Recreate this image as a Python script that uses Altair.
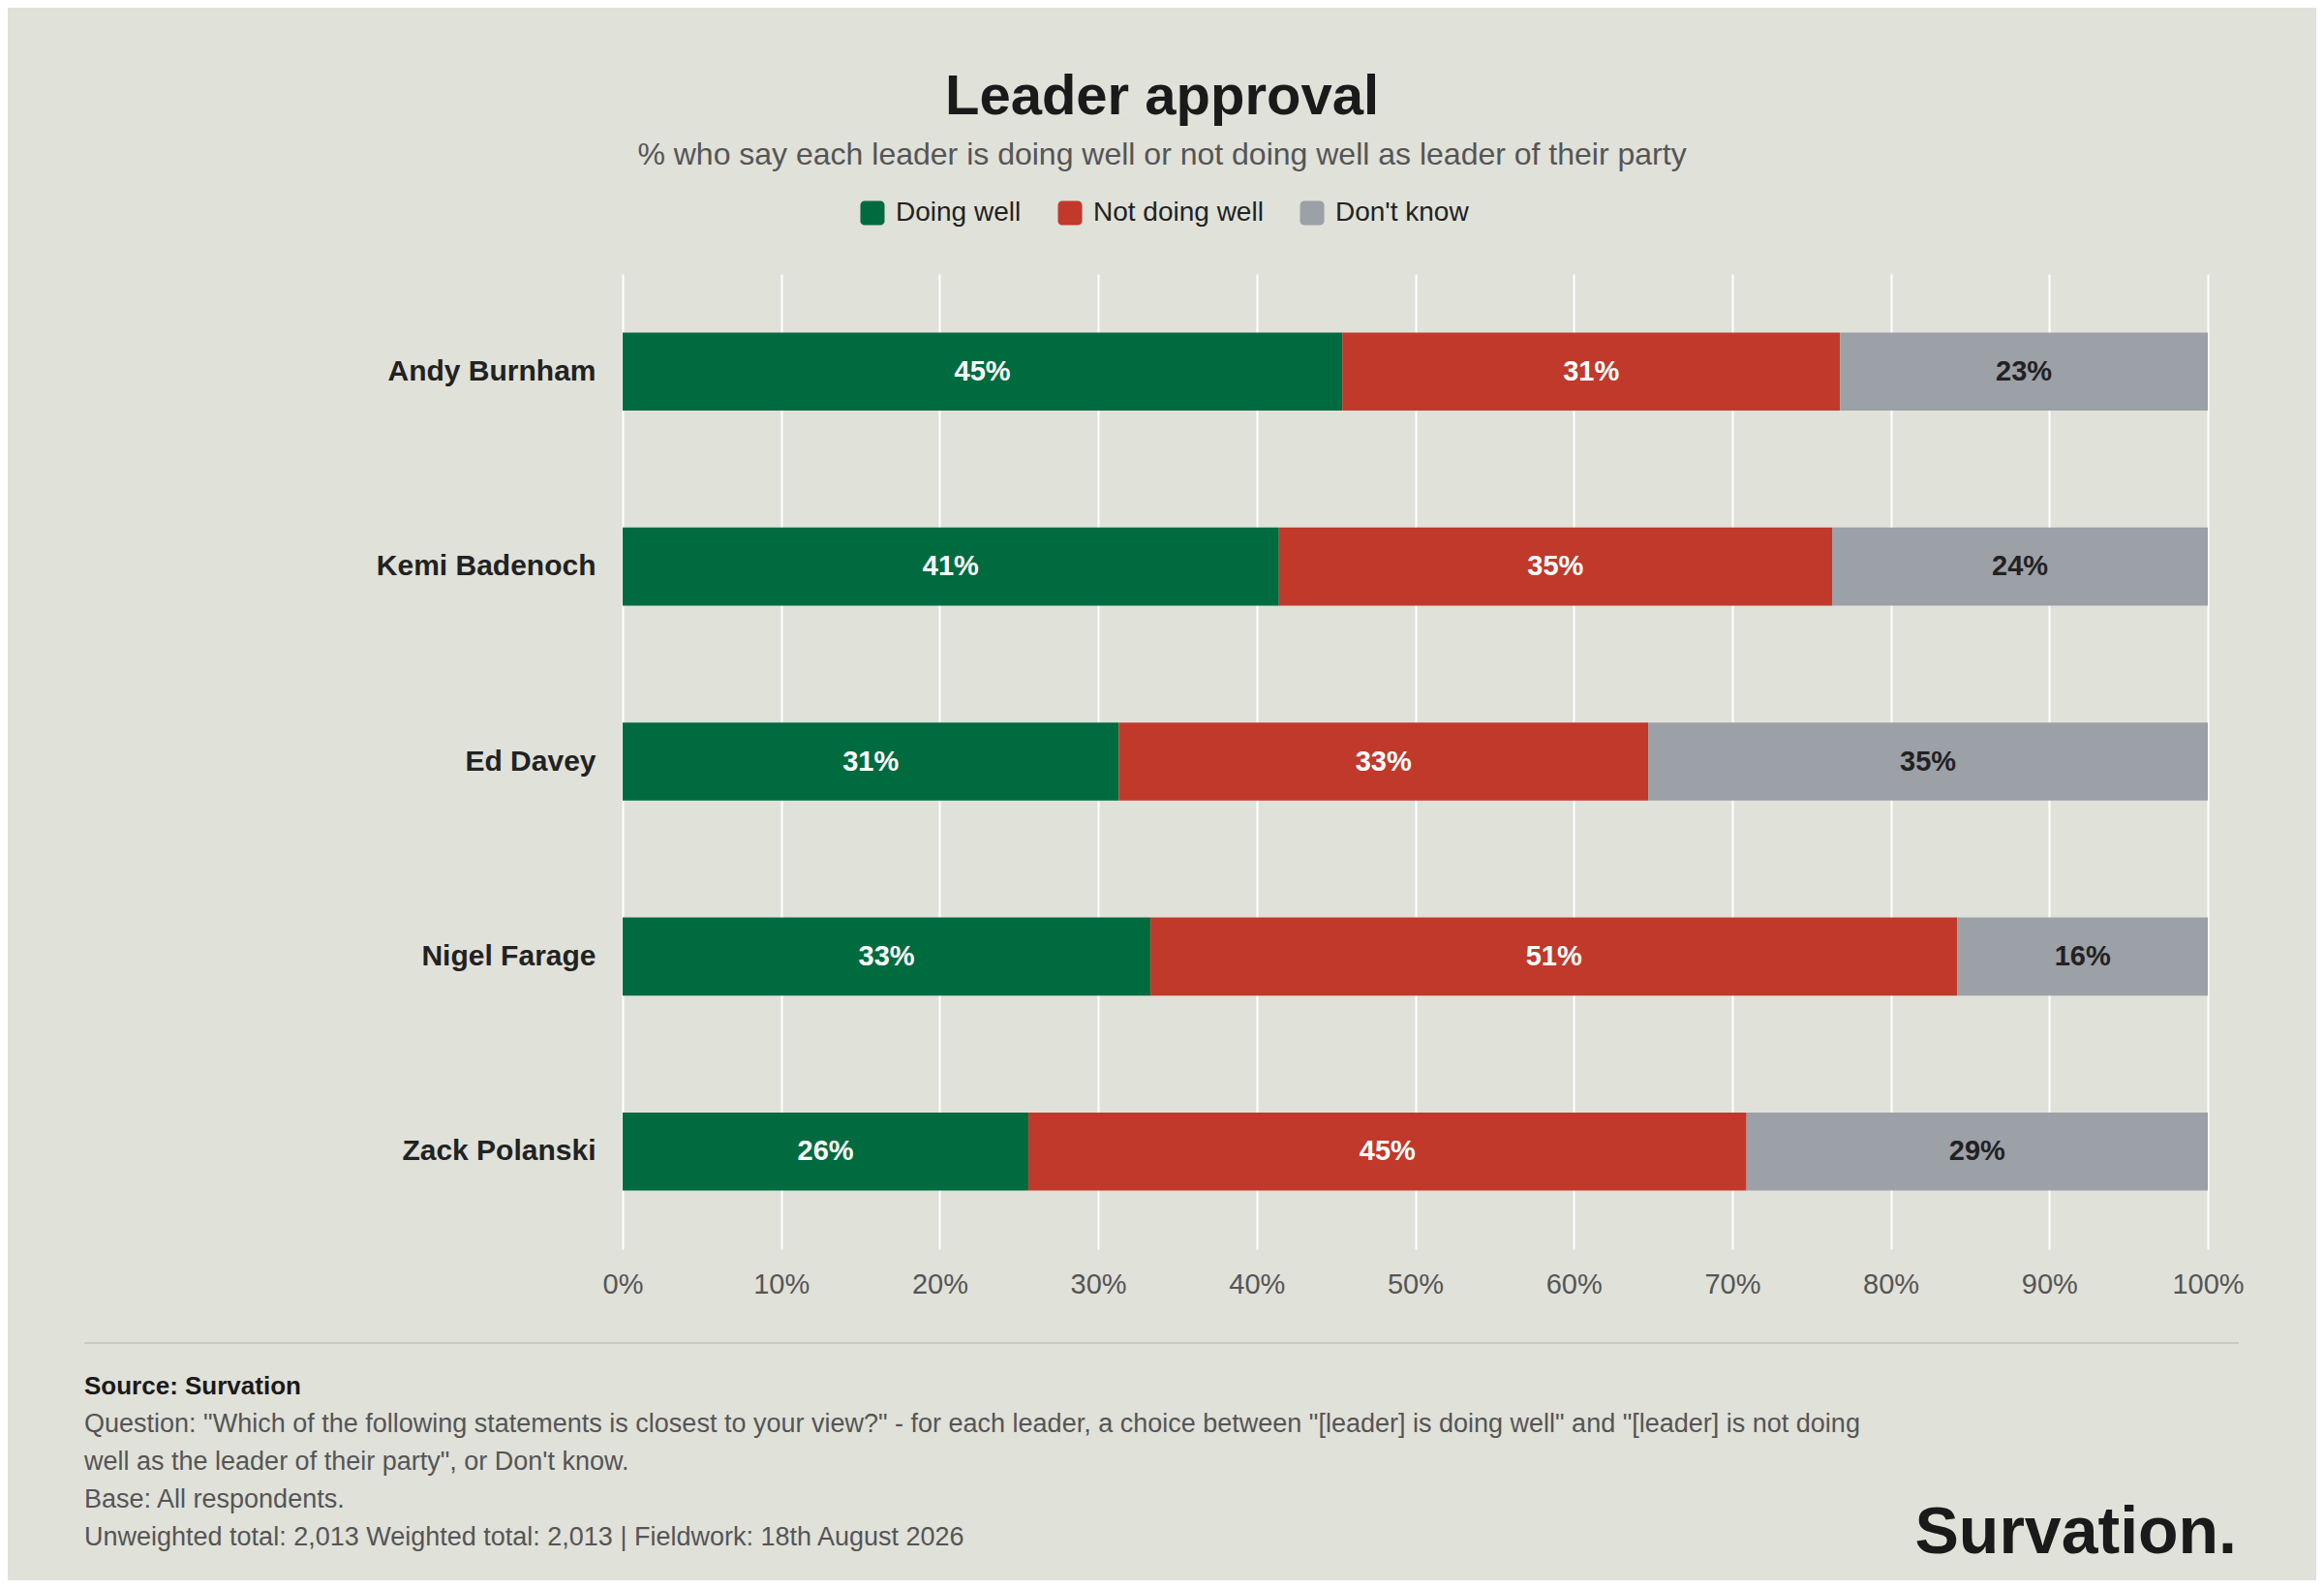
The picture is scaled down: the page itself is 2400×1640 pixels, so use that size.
import altair as alt
import pandas as pd

leaders = ["Andy Burnham", "Kemi Badenoch", "Ed Davey", "Nigel Farage", "Zack Polanski"]
responses = ["Doing well", "Not doing well", "Don't know"]
doing_well = [45.4, 41.4, 31.3, 33.3, 25.6]
not_doing_well = [31.4, 34.9, 33.4, 50.9, 45.3]
dont_know = [23.2, 23.7, 35.3, 15.8, 29.1]
colours = ["#006B3F", "#C0392B", "#9CA0A7"]
x_ticks = [0, 10, 20, 30, 40, 50, 60, 70, 80, 90, 100]

title = "Leader approval"
subtitle = "% who say each leader is doing well or not doing well as leader of their party"
source = "Source: Survation"
notes = [
    'Question: "Which of the following statements is closest to your view?" - for each leader, a choice between "[leader] is doing well" and "[leader] is not doing',
    'well as the leader of their party", or Don\'t know.',
    "Base: All respondents.",
    "Unweighted total: 2,013 Weighted total: 2,013 | Fieldwork: 18th August 2026",
]
logo = "Survation."

FONT = "Liberation Sans"
BG = "#E0E1D9"
W, H = 1637, 1007

rows = []
for i, leader in enumerate(leaders):
    for j, (resp, vals) in enumerate(zip(responses, [doing_well, not_doing_well, dont_know])):
        rows.append({"leader": leader, "response": resp, "idx": j, "pct": vals[i]})
df = pd.DataFrame(rows)

x_axis = alt.Axis(
    values=x_ticks,
    labelExpr="datum.value + '%'",
    labelFontSize=29,
    labelColor="#555555",
    labelPadding=22,
    labelFlush=False,
    ticks=False,
    domain=False,
    grid=True,
    gridColor="#FFFFFF",
    gridWidth=2,
    title=None,
)
y_axis = alt.Axis(
    labelFontSize=30,
    labelFontWeight="bold",
    labelColor="#222222",
    labelPadding=28,
    labelLimit=500,
    ticks=False,
    domain=False,
    grid=False,
    title=None,
)
y_enc = alt.Y(
    "leader:N",
    sort=leaders,
    scale=alt.Scale(paddingInner=0.6, paddingOuter=0.3),
    axis=y_axis,
)
x_scale = alt.Scale(domain=[0, 100], nice=False)

base = alt.Chart(df)

bars = base.mark_bar().encode(
    x=alt.X("pct:Q", stack="zero", scale=x_scale, axis=x_axis),
    y=y_enc,
    color=alt.Color(
        "response:N",
        scale=alt.Scale(domain=responses, range=colours),
        legend=alt.Legend(
            title=None,
            orient="none",
            legendX=244,
            legendY=-77,
            direction="horizontal",
            labelFontSize=28,
            labelColor="#222222",
            labelFont=FONT,
            labelLimit=500,
            symbolType="M-0.65,-1H0.65A0.35,0.35,0,0,1,1,-0.65V0.65A0.35,0.35,0,0,1,0.65,1H-0.65A0.35,0.35,0,0,1,-1,0.65V-0.65A0.35,0.35,0,0,1,-0.65,-1Z",
            symbolSize=625,
            symbolStrokeWidth=0,
            symbolOpacity=1,
            labelOffset=10,
            columnPadding=36,
        ),
    ),
    order=alt.Order("idx:Q"),
)

labels = (
    base.transform_stack(
        stack="pct",
        groupby=["leader"],
        as_=["x0", "x1"],
        sort=[alt.SortField("idx")],
    )
    .transform_calculate(
        mid="(datum.x0 + datum.x1) / 2",
        label="format(datum.pct, '.0f') + '%'",
    )
    .mark_text(fontSize=29, fontWeight="bold", align="center", baseline="middle", font=FONT)
    .encode(
        x=alt.X("mid:Q", scale=x_scale, axis=x_axis),
        y=y_enc,
        text="label:N",
        color=alt.condition("datum.idx === 2", alt.value("#222222"), alt.value("#FFFFFF")),
    )
)

one = pd.DataFrame({"_": [0]})

title_text = alt.Chart(one).mark_text(
    text=title, fontSize=58, fontWeight="bold", color="#1A1A1A", align="center",
    baseline="alphabetic", font=FONT,
).encode(x=alt.value(557), y=alt.value(-165))

subtitle_text = alt.Chart(one).mark_text(
    text=subtitle, fontSize=32, color="#555555", align="center",
    baseline="alphabetic", font=FONT,
).encode(x=alt.value(557), y=alt.value(-113))

divider = alt.Chart(one).mark_rule(color="#C9C9C1", strokeWidth=2).encode(
    x=alt.value(-556), x2=alt.value(1669), y=alt.value(1104)
)

source_text = alt.Chart(one).mark_text(
    text=source, fontSize=26, fontWeight="bold", color="#1A1A1A", align="left",
    baseline="alphabetic", font=FONT,
).encode(x=alt.value(-556), y=alt.value(1157))

notes_text = alt.Chart(one).mark_text(
    text=notes, fontSize=27, color="#555555", align="left", baseline="alphabetic",
    lineHeight=39, font=FONT,
).encode(x=alt.value(-556), y=alt.value(1196))

logo_text = alt.Chart(one).mark_text(
    text=logo, fontSize=68, fontWeight="bold", color="#1A1A1A", align="right",
    baseline="alphabetic", font=FONT,
).encode(x=alt.value(1667), y=alt.value(1321))

chart = (
    alt.layer(bars, labels, title_text, subtitle_text, divider, source_text, notes_text, logo_text)
    .properties(
        width=W,
        height=H,
        autosize=alt.AutoSizeParams(type="none"),
        padding={"left": 635, "top": 275, "right": 112, "bottom": 342},
        background=BG,
    )
    .configure(font=FONT)
    .configure_view(stroke=None)
)

chart.save("out.html", embed_options={"renderer": "svg", "actions": False})
